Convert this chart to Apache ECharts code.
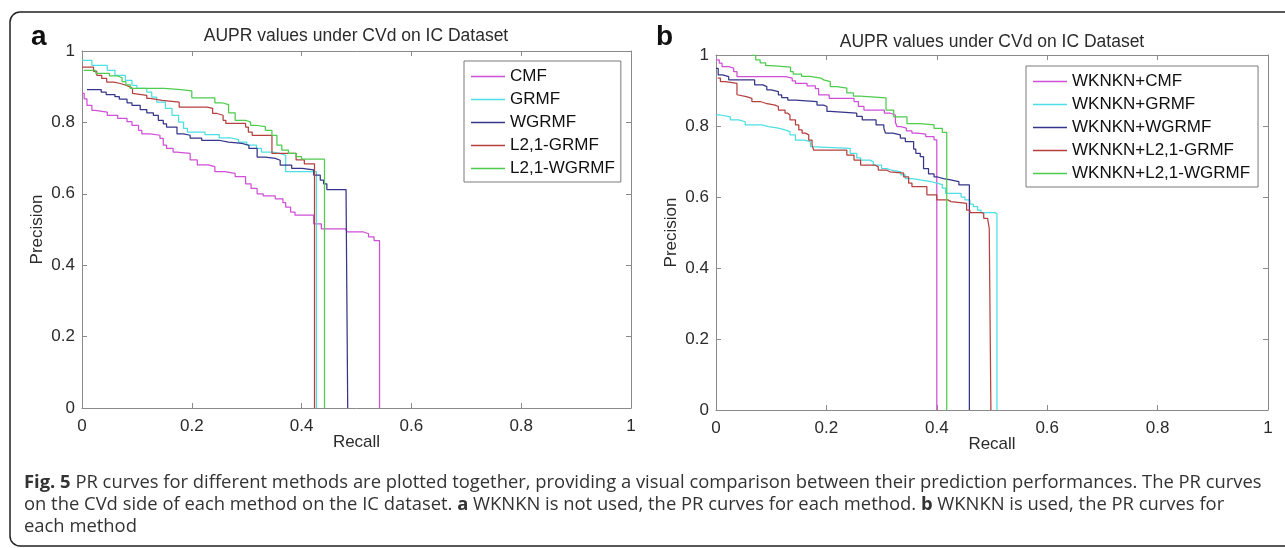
<!DOCTYPE html>
<html>
<head>
<meta charset="utf-8">
<script src="https://cdn.jsdelivr.net/npm/echarts@6/dist/echarts.min.js"></script>
<style>
html,body{margin:0;padding:0;background:#fff;}
#chart{width:1285px;height:548px;}
</style>
</head>
<body>
<div id="chart"></div>
<script>
// ---- data (recall, precision) ----
const titleText = 'AUPR values under CVd on IC Dataset';
const namesA = ['CMF', 'GRMF', 'WGRMF', 'L2,1-GRMF', 'L2,1-WGRMF'];
const namesB = ['WKNKN+CMF', 'WKNKN+GRMF', 'WKNKN+WGRMF', 'WKNKN+L2,1-GRMF', 'WKNKN+L2,1-WGRMF'];
const axisTicks = [0, 0.2, 0.4, 0.6, 0.8, 1];

const cmfA = [[0,0.881],[0.004,0.866],[0.009,0.848],[0.018,0.834],[0.024,0.829],[0.046,0.82],[0.065,0.811],[0.082,0.802],[0.091,0.792],[0.103,0.778],[0.109,0.768],[0.124,0.764],[0.142,0.755],[0.148,0.736],[0.154,0.727],[0.166,0.717],[0.172,0.713],[0.197,0.695],[0.21,0.681],[0.23,0.676],[0.242,0.662],[0.26,0.657],[0.279,0.648],[0.298,0.628],[0.308,0.615],[0.319,0.6],[0.33,0.594],[0.352,0.586],[0.366,0.575],[0.371,0.563],[0.38,0.549],[0.388,0.54],[0.422,0.516],[0.436,0.502],[0.48,0.497],[0.483,0.493],[0.513,0.488],[0.522,0.479],[0.532,0.469],[0.542,0]];
const grmfA = [[0,0.974],[0.018,0.96],[0.046,0.946],[0.06,0.932],[0.079,0.918],[0.091,0.904],[0.1,0.895],[0.118,0.885],[0.127,0.871],[0.136,0.857],[0.152,0.839],[0.164,0.82],[0.176,0.801],[0.185,0.783],[0.192,0.773],[0.224,0.766],[0.25,0.757],[0.27,0.752],[0.285,0.745],[0.3,0.736],[0.318,0.727],[0.327,0.717],[0.348,0.713],[0.36,0.708],[0.371,0.662],[0.427,0]];
const wgrmfA = [[0.009,0.892],[0.035,0.885],[0.044,0.878],[0.06,0.872],[0.068,0.865],[0.082,0.855],[0.091,0.848],[0.106,0.836],[0.118,0.827],[0.13,0.82],[0.139,0.806],[0.148,0.796],[0.154,0.787],[0.173,0.768],[0.185,0.764],[0.197,0.756],[0.218,0.75],[0.249,0.745],[0.267,0.741],[0.291,0.736],[0.304,0.727],[0.319,0.703],[0.334,0.699],[0.352,0.694],[0.361,0.68],[0.382,0.671],[0.401,0.667],[0.422,0.652],[0.434,0.638],[0.44,0.628],[0.446,0.612],[0.481,0.6],[0.484,0]];
const l21grmfA = [[0,0.955],[0.021,0.943],[0.027,0.932],[0.036,0.923],[0.045,0.913],[0.058,0.909],[0.07,0.904],[0.08,0.899],[0.088,0.895],[0.092,0.881],[0.095,0.876],[0.118,0.867],[0.124,0.862],[0.146,0.857],[0.177,0.843],[0.228,0.839],[0.238,0.825],[0.246,0.82],[0.257,0.806],[0.262,0.797],[0.298,0.787],[0.303,0.773],[0.31,0.764],[0.346,0.713],[0.39,0.695],[0.405,0.684],[0.4235,0]];
const l21wgrmfA = [[0.003,0.946],[0.025,0.937],[0.05,0.93],[0.065,0.925],[0.073,0.914],[0.08,0.905],[0.088,0.895],[0.15,0.892],[0.18,0.888],[0.2,0.869],[0.242,0.855],[0.255,0.85],[0.267,0.827],[0.279,0.806],[0.298,0.801],[0.307,0.792],[0.316,0.788],[0.334,0.778],[0.346,0.764],[0.355,0.736],[0.364,0.722],[0.376,0.713],[0.39,0.704],[0.4,0.697],[0.4417,0]];

const cmfB = [[0,0.986],[0.006,0.977],[0.011,0.967],[0.023,0.963],[0.032,0.953],[0.038,0.939],[0.126,0.935],[0.138,0.927],[0.144,0.92],[0.165,0.913],[0.18,0.905],[0.186,0.888],[0.205,0.878],[0.25,0.869],[0.258,0.855],[0.268,0.845],[0.305,0.836],[0.316,0.831],[0.325,0.81],[0.328,0.798],[0.335,0.794],[0.345,0.786],[0.355,0.78],[0.365,0.777],[0.38,0.77],[0.395,0.761],[0.4,0]];
const grmfB = [[0,0.831],[0.008,0.826],[0.026,0.817],[0.041,0.812],[0.053,0.803],[0.083,0.798],[0.095,0.794],[0.113,0.789],[0.125,0.784],[0.134,0.775],[0.144,0.76],[0.16,0.756],[0.171,0.742],[0.174,0.737],[0.243,0.723],[0.255,0.71],[0.262,0.704],[0.279,0.699],[0.285,0.69],[0.3,0.68],[0.309,0.676],[0.318,0.671],[0.335,0.662],[0.343,0.652],[0.355,0.648],[0.37,0.643],[0.39,0.639],[0.4,0.635],[0.41,0.625],[0.416,0.61],[0.444,0.6],[0.451,0.592],[0.46,0.58],[0.466,0.573],[0.474,0.563],[0.48,0.556],[0.505,0.553],[0.509,0]];
const wgrmfB = [[0,0.962],[0.004,0.944],[0.012,0.939],[0.023,0.93],[0.07,0.916],[0.085,0.911],[0.092,0.902],[0.1,0.897],[0.113,0.888],[0.119,0.88],[0.13,0.873],[0.144,0.869],[0.183,0.859],[0.195,0.855],[0.201,0.841],[0.207,0.836],[0.255,0.827],[0.265,0.817],[0.29,0.803],[0.304,0.794],[0.307,0.78],[0.32,0.775],[0.334,0.766],[0.343,0.756],[0.358,0.735],[0.362,0.723],[0.37,0.714],[0.376,0.68],[0.385,0.665],[0.395,0.657],[0.4,0.652],[0.412,0.648],[0.425,0.643],[0.44,0.634],[0.459,0]];
const l21grmfB = [[0.003,0.935],[0.008,0.925],[0.017,0.92],[0.038,0.888],[0.041,0.883],[0.055,0.878],[0.065,0.869],[0.08,0.864],[0.09,0.859],[0.107,0.855],[0.113,0.845],[0.125,0.836],[0.13,0.831],[0.134,0.817],[0.144,0.803],[0.15,0.789],[0.156,0.78],[0.162,0.775],[0.168,0.76],[0.174,0.746],[0.177,0.732],[0.237,0.718],[0.25,0.704],[0.262,0.69],[0.288,0.685],[0.294,0.676],[0.309,0.671],[0.315,0.667],[0.34,0.657],[0.349,0.639],[0.355,0.629],[0.382,0.606],[0.4,0.592],[0.42,0.587],[0.426,0.582],[0.454,0.563],[0.46,0.556],[0.481,0.554],[0.485,0.54],[0.492,0.535],[0.495,0.512],[0.498,0]];
const l21wgrmfB = [[0.065,1.0],[0.072,0.986],[0.08,0.978],[0.09,0.97],[0.1,0.966],[0.135,0.953],[0.14,0.946],[0.155,0.94],[0.17,0.935],[0.19,0.93],[0.195,0.925],[0.207,0.911],[0.219,0.907],[0.237,0.893],[0.249,0.884],[0.261,0.879],[0.308,0.845],[0.322,0.826],[0.346,0.807],[0.37,0.803],[0.395,0.793],[0.41,0.782],[0.418,0]];

const captionLines = [
  ['Fig. 5', ' PR curves for different methods are plotted together, providing a visual comparison between their prediction performances. The PR curves'],
  ['', 'on the CVd side of each method on the IC dataset. ', 'a', ' WKNKN is not used, the PR curves for each method. ', 'b', ' WKNKN is used, the PR curves for'],
  ['', 'each method']
];

// ---- styling ----
const colors = ['#d04fd8', '#4ddfe4', '#35358a', '#b5403e', '#4dcc4d'];
const FONT = '"Liberation Sans", Arial, Helvetica, sans-serif';
const TXT = '#2b2b2b';
const AX = '#8a8a8a';

const grids = [
  {left: 82, top: 51, width: 549, height: 357},
  {left: 716, top: 55, width: 552, height: 355}
];

function tickFmt(v) {
  const t = axisTicks.find(t => Math.abs(t - v) < 1e-9);
  return String(t === undefined ? v : t);
}
function mkX(gi, pos, labels, name) {
  return {
    type: 'value', gridIndex: gi, position: pos, min: 0, max: 1, interval: 0.2,
    axisLine: {show: true, onZero: false, lineStyle: {color: AX, width: 1}},
    axisTick: {show: true, inside: true, length: 5, lineStyle: {color: AX}},
    axisLabel: {show: labels, margin: 10, color: TXT, fontSize: 17, fontFamily: FONT, formatter: tickFmt},
    splitLine: {show: false},
    name: name || '', nameLocation: 'middle', nameGap: 26, nameMoveOverlap: false,
    nameTextStyle: {color: TXT, fontSize: 17, fontFamily: FONT}
  };
}
function mkY(gi, pos, labels, name) {
  return {
    type: 'value', gridIndex: gi, position: pos, min: 0, max: 1, interval: 0.2,
    axisLine: {show: true, onZero: false, lineStyle: {color: AX, width: 1}},
    axisTick: {show: true, inside: true, length: 5, lineStyle: {color: AX}},
    axisLabel: {show: labels, margin: 7, color: TXT, fontSize: 17, fontFamily: FONT, formatter: tickFmt},
    splitLine: {show: false},
    name: name || '', nameLocation: 'middle', nameGap: 36, nameMoveOverlap: false,
    nameTextStyle: {color: TXT, fontSize: 17, fontFamily: FONT}
  };
}

const dataA = [cmfA, grmfA, wgrmfA, l21grmfA, l21wgrmfA];
const dataB = [cmfB, grmfB, wgrmfB, l21grmfB, l21wgrmfB];

const series = [];
namesA.forEach((n, i) => series.push({
  name: n, type: 'line', xAxisIndex: 0, yAxisIndex: 0, step: 'end', symbol: 'none', showSymbol: false,
  data: dataA[i], lineStyle: {color: colors[i], width: 1.25}, itemStyle: {color: colors[i]},
  animation: false, silent: true, z: 2 + i
}));
namesB.forEach((n, i) => series.push({
  name: n, type: 'line', xAxisIndex: 2, yAxisIndex: 2, step: 'end', symbol: 'none', showSymbol: false,
  data: dataB[i], lineStyle: {color: colors[i], width: 1.25}, itemStyle: {color: colors[i]},
  animation: false, silent: true, z: 2 + i
}));

function legend(names, left, top, pad) {
  return {
    data: names.map(n => ({name: n, icon: 'rect'})), orient: 'vertical', left: left, top: top, padding: pad,
    itemWidth: 34, itemHeight: 1.5, itemGap: 6,
    borderColor: '#7a7a7a', borderWidth: 1, backgroundColor: '#fff',
    selectedMode: false,
    textStyle: {color: '#111', fontSize: 17, fontFamily: FONT, lineHeight: 17}
  };
}

function captionRich(parts) {
  return parts.map((p, i) => p === '' ? '' : (i % 2 === 0 ? '{b|' + p + '}' : '{r|' + p + '}')).join('');
}
const capStyle = {fontSize: 18.4, fontFamily: '"Open Sans", "Noto Sans", sans-serif', fill: '#333'};
const graphics = [
  {type: 'rect', shape: {x: 10, y: 12, width: 1290, height: 534, r: 10},
   style: {fill: 'none', stroke: '#222', lineWidth: 1.5}, silent: true, z: 0},
  {type: 'text', x: 31, y: 37, style: {text: 'a', fontSize: 28, fontWeight: 'bold', fontFamily: FONT, fill: '#111', verticalAlign: 'middle'}},
  {type: 'text', x: 656, y: 37, style: {text: 'b', fontSize: 28, fontWeight: 'bold', fontFamily: FONT, fill: '#111', verticalAlign: 'middle'}}
];
const capY = [483, 505, 527];
captionLines.forEach((parts, i) => {
  graphics.push({
    type: 'text', x: 24, y: capY[i],
    style: Object.assign({
      text: captionRich(parts), verticalAlign: 'middle',
      rich: {
        b: Object.assign({fontWeight: 'bold'}, capStyle),
        r: Object.assign({fontWeight: 'normal'}, capStyle)
      }
    }, capStyle)
  });
});

const option = {
  animation: false,
  backgroundColor: '#fff',
  title: [
    {text: titleText, left: 356, top: 27, textAlign: 'center', padding: 0,
     textStyle: {fontSize: 17.5, fontWeight: 'normal', color: TXT, fontFamily: FONT}},
    {text: titleText, left: 992, top: 33, textAlign: 'center', padding: 0,
     textStyle: {fontSize: 17.5, fontWeight: 'normal', color: TXT, fontFamily: FONT}}
  ],
  grid: grids.map(g => Object.assign({containLabel: false, show: false}, g)),
  xAxis: [mkX(0, 'bottom', true, 'Recall'), mkX(0, 'top', false), mkX(1, 'bottom', true, 'Recall'), mkX(1, 'top', false)],
  yAxis: [mkY(0, 'left', true, 'Precision'), mkY(0, 'right', false), mkY(1, 'left', true, 'Precision'), mkY(1, 'right', false)],
  legend: [legend(namesA, 464, 61, [7, 6, 5, 7]), legend(namesB, 1026, 66, [7, 8, 5, 7])],
  series: series,
  graphic: graphics
};

const chart = echarts.init(document.getElementById('chart'), null, {renderer: 'canvas'});
chart.setOption(option);
</script>
</body>
</html>
